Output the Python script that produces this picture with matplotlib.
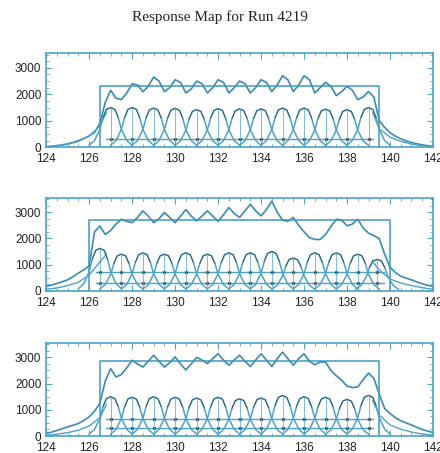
import numpy as np
import matplotlib.pyplot as plt
from matplotlib.ticker import MultipleLocator

# --- data ---
x_grid_start, x_grid_stop, x_grid_step = 124.0, 142.0, 0.25

sum_1 = [20, 40, 60, 90, 130, 180, 250, 330, 430, 560, 900, 1700, 2150, 1850, 1800, 2050,
         2400, 2350, 2100, 2300, 2650, 2500, 2100, 2250, 2550, 2450, 2050, 2200, 2500, 2400,
         2050, 2250, 2550, 2450, 2050, 2250, 2500, 2400, 2050, 2250, 2550, 2450, 2100, 2350,
         2700, 2550, 2100, 2350, 2700, 2550, 2050, 2250, 2450, 2300, 1950, 2100, 2300, 2150,
         1800, 1900, 2100, 1900, 1000, 750, 550, 420, 320, 240, 180, 130, 90, 60, 30]
sum_2 = [170, 220, 280, 350, 420, 540, 680, 800, 950, 2250, 2470, 2150, 2300, 2550, 2730, 2650,
         2600, 2800, 3050, 2850, 2600, 2750, 2990, 2800, 2600, 2850, 3100, 2850, 2670, 2850,
         3050, 2850, 2650, 2900, 3180, 2950, 2800, 3050, 3300, 3050, 2860, 3100, 3420, 3000,
         2700, 2650, 2800, 2500, 2250, 2030, 1960, 1960, 2150, 2450, 2730, 2700, 2480, 2550,
         2730, 2400, 2200, 2100, 2000, 1400, 900, 700, 560, 480, 420, 340, 270, 210, 170]
sum_3 = [100, 150, 210, 280, 350, 410, 480, 590, 730, 950, 1250, 2100, 2570, 2250, 2350, 2600,
         2890, 2750, 2630, 2850, 3080, 2850, 2630, 2800, 3020, 2750, 2520, 2750, 3000, 2900,
         2760, 2950, 3140, 2900, 2700, 2900, 3080, 2850, 2650, 2900, 3140, 2900, 2650, 2950,
         3200, 2950, 2700, 2950, 3140, 2850, 2720, 2820, 2820, 2500, 2300, 2130, 1900, 1850,
         1870, 2150, 2400, 2200, 1600, 1050, 860, 700, 580, 500, 420, 330, 250, 190, 130]

# box (flat response) per run
box_left = [126.5, 126.0, 126.5]
box_right = [139.5, 140.0, 139.5]
box_height = [2300, 2700, 2850]

# individual channel responses
peak_centers_1 = [127, 128, 129, 130, 131, 132, 133, 134, 135, 136, 137, 138, 139]
peak_heights_1 = [1500, 1500, 1480, 1470, 1420, 1460, 1450, 1450, 1480, 1480, 1440, 1420, 1500]
peak_centers_2 = [126.5, 127.5, 128.5, 129.5, 130.5, 131.5, 132.5, 133.5, 134.5, 135.5, 136.5,
                  137.5, 138.5, 139.4]
peak_heights_2 = [1620, 1400, 1450, 1400, 1450, 1400, 1450, 1450, 1500, 1250, 1450, 1450, 1400, 1200]
peak_centers_3 = [127, 128, 129, 130, 131, 132, 133, 134, 135, 136, 137, 138, 139]
peak_heights_3 = [1500, 1480, 1500, 1480, 1450, 1480, 1420, 1450, 1550, 1500, 1480, 1400, 1550]

# shape of one channel response (offset from centre, fraction of height)
profile_dx = [-1.0, -0.75, -0.5, -0.35, -0.2, 0.0, 0.2, 0.35, 0.5, 0.75, 1.0]
profile_rel = [0.05, 0.17, 0.45, 0.75, 0.95, 1.0, 0.95, 0.75, 0.45, 0.17, 0.05]

# long tails of the outer channels
tail_left_x = [124, 124.5, 125, 125.5, 126, 126.5, 126.8]
tail_left_y = [[20, 50, 110, 220, 420, 800, 1300],
               [60, 110, 200, 330, 600, 1100, 1400],
               [30, 70, 130, 220, 380, 700, 1200]]
tail_right_x = [139.2, 139.5, 140, 140.5, 141, 141.5, 142]
tail_right_y = [[1300, 700, 380, 220, 120, 60, 30],
                [1100, 800, 450, 300, 200, 120, 60],
                [1350, 800, 420, 260, 150, 80, 40]]

# flat background levels
levels = [[300], [700, 300], [650, 300]]

xticks = [124, 126, 128, 130, 132, 134, 136, 138, 140, 142]
yticks = [0, 1000, 2000, 3000]

blue = '#4ea2c6'
dark = '#1a2a30'

fig = plt.figure(figsize=(4.4, 4.53), dpi=100)
fig.text(0.5, 0.962, 'Response Map for Run 4219', ha='center', va='center',
         fontsize=11, family='Liberation Serif', color='#222222')

axes_pos = [[0.105, 0.675, 0.879, 0.208],
            [0.105, 0.358, 0.879, 0.206],
            [0.105, 0.0375, 0.879, 0.206]]
sums = [sum_1, sum_2, sum_3]
centers = [peak_centers_1, peak_centers_2, peak_centers_3]
heights = [peak_heights_1, peak_heights_2, peak_heights_3]

xg = np.arange(x_grid_start, x_grid_stop + 0.01, x_grid_step)
pdx = np.array(profile_dx)
prel = np.array(profile_rel)

for i in range(3):
    ax = fig.add_axes(axes_pos[i])
    # box
    ax.plot([box_left[i], box_left[i], box_right[i], box_right[i]],
            [0, box_height[i], box_height[i], 0], color=blue, lw=1.2)
    # sum curve
    ax.plot(xg, sums[i], color=blue, lw=1.3)
    ax.plot(xg, sums[i], color=dark, lw=0.3, alpha=0.5)
    # tails
    ax.plot(tail_left_x, tail_left_y[i], color=blue, lw=1.0)
    ax.plot(tail_right_x, tail_right_y[i], color=blue, lw=1.0)
    # background levels
    for lv in levels[i]:
        ax.plot([box_left[i] + 0.3, box_right[i] - 0.3], [lv, lv], color=blue, lw=1.0)
        ax.plot(centers[i], [lv] * len(centers[i]), 's', ms=2.0, color=dark, alpha=0.55)
    # channel responses
    for c, h in zip(centers[i], heights[i]):
        ax.plot(c + pdx, h * prel, color=blue, lw=1.1)
        ax.plot(c + pdx[3:8], h * prel[3:8], color=dark, lw=0.7, alpha=0.6)
        ax.plot([c, c], [0, h], color=blue, lw=0.5)

    ax.set_xlim(124, 142)
    ax.set_ylim(0, 3560)
    ax.set_xticks(xticks)
    ax.set_yticks(yticks)
    ax.xaxis.set_minor_locator(MultipleLocator(0.5))
    ax.yaxis.set_minor_locator(MultipleLocator(250))
    ax.tick_params(which='both', direction='in', top=True, right=True, color=blue,
                   labelsize=8.5, labelcolor='#222222')
    ax.tick_params(axis='x', pad=4.5)
    ax.tick_params(axis='y', pad=3.5)
    ax.tick_params(which='major', length=4, width=0.8)
    ax.tick_params(which='minor', length=2, width=0.6)
    for lab in ax.get_xticklabels() + ax.get_yticklabels():
        lab.set_family('Liberation Sans')
    for lab in ax.get_yticklabels():
        lab.set_verticalalignment('center_baseline')
    for s in ax.spines.values():
        s.set_color(blue)
        s.set_linewidth(1.2)

fig.savefig('out.png', dpi=100)
